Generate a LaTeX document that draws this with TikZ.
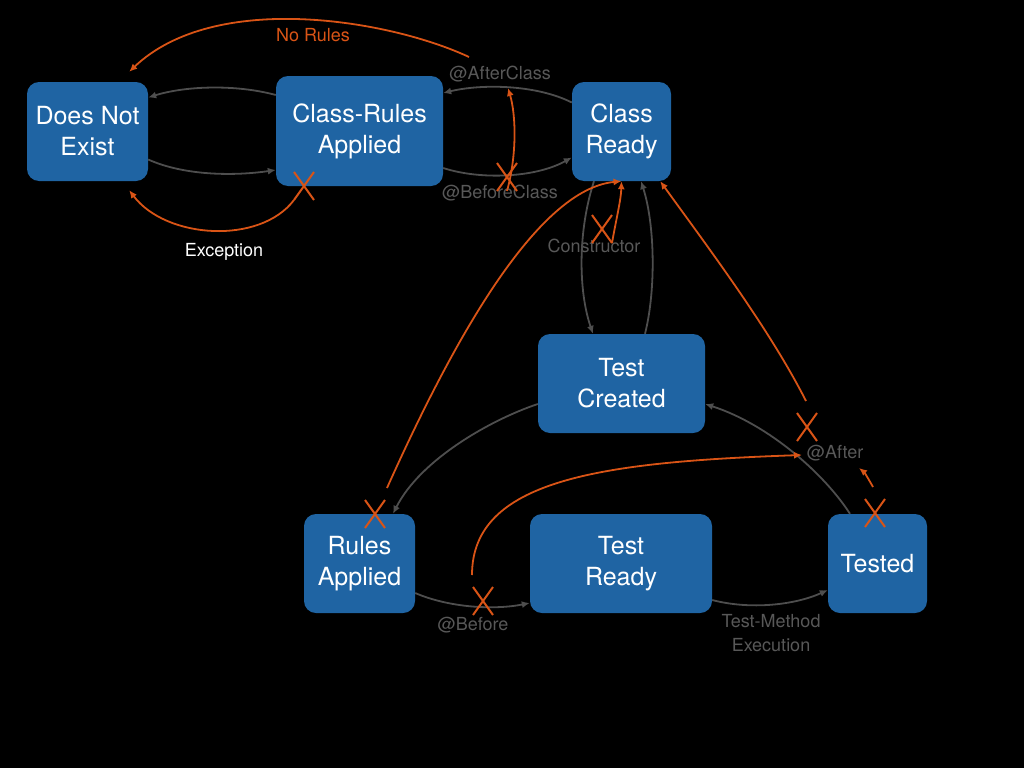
\documentclass[tikz,border=0pt]{standalone}
\usepackage{fontspec}
\setmainfont{TeX Gyre Heros}
\usetikzlibrary{arrows.meta,shapes.misc}
\definecolor{stateblue}{RGB}{31,100,163}
\definecolor{edgegray}{RGB}{78,78,78}
\definecolor{lblgray}{RGB}{88,88,88}
\definecolor{rulered}{RGB}{217,84,22}

\begin{document}
\begin{tikzpicture}[x=1pt,y=-1pt,
	state/.style={fill=stateblue, rounded corners=12pt, text=white, align=center, inner sep=0pt, font=\fontsize{25}{31}\selectfont},
	trans/.style={draw=edgegray, line width=1.8pt, -{Latex[length=8pt,width=7pt]}},
	ruled/.style={draw=rulered, line width=1.8pt, -{Latex[length=8pt,width=7pt]}},
	lbl/.style={text=lblgray, align=center, inner sep=0pt, font=\fontsize{18}{24}\selectfont},
	nope/.style={cross out, draw=rulered, line width=2pt, minimum width=18pt, minimum height=26pt, inner sep=0pt}]
\useasboundingbox (0,0) rectangle (1024,768);
\fill[black] (0,0) rectangle (1024,768);

% states
\node[state, minimum width=121pt, minimum height=99pt] (dne) at (87.5,131.5) {Does Not\\Exist};
\node[state, minimum width=167pt, minimum height=110pt] (cra) at (359.5,131) {Class-Rules\\Applied};
\node[state, minimum width=99pt, minimum height=99pt] (cr) at (621.5,131.5) {Class\\Ready};
\node[state, minimum width=167pt, minimum height=99pt] (tc) at (621.5,383.5) {Test\\Created};
\node[state, minimum width=111pt, minimum height=99pt] (ra) at (359.5,563.5) {Rules\\Applied};
\node[state, minimum width=182pt, minimum height=99pt] (tr) at (621,563.5) {Test\\Ready};
\node[state, minimum width=99pt, minimum height=99pt] (td) at (877.5,563.5) {Tested};

\node[lbl] (lac) at (500,74) {@AfterClass};
\node[lbl] (lbc) at (500,193) {@BeforeClass};
\node[lbl, text=rulered] (lnr) at (313,35) {No Rules};
\node[lbl, text=white] (lex) at (224,252) {Exception};
\node[lbl] (lco) at (594,246) {Constructor};
\node[lbl] (lbe) at (473,625) {@Before};
\node[lbl] (laf) at (835,453) {@After};
\node[lbl] (ltm) at (771,633) {Test-Method\\Execution};

% normal lifecycle
\draw[trans] ([yshift=36pt]cra.west) .. controls (235,84) and (185,86) .. ([yshift=34pt]dne.east);
\draw[trans] ([yshift=-28pt]dne.east) .. controls (185,176) and (235,176) .. ([yshift=-39pt]cra.west);
\draw[trans] ([yshift=29pt]cr.west) .. controls (535,84) and (480,84) .. ([yshift=38pt]cra.east);
\draw[trans] ([yshift=-37pt]cra.east) .. controls (480,180) and (535,178) .. ([yshift=-26pt]cr.west);
\draw[trans] ([xshift=-27.5pt]cr.south) .. controls (578,230) and (578,290) .. ([xshift=-28.5pt]tc.north);
\draw[trans] ([xshift=23.5pt]tc.north) .. controls (656,290) and (655,225) .. ([xshift=19.5pt]cr.south);
\draw[trans] ([yshift=-20.5pt]tc.west) .. controls (490,420) and (420,460) .. ([xshift=33.5pt]ra.north);
\draw[trans] ([yshift=-29.5pt]ra.east) .. controls (450,608) and (495,610) .. ([yshift=-39.5pt]tr.west);
\draw[trans] ([yshift=-36.5pt]tr.east) .. controls (750,610) and (795,605) .. ([yshift=-26.5pt]td.west);
\draw[trans] ([xshift=-27.5pt]td.north) .. controls (825,475) and (770,425) .. ([yshift=-20.5pt]tc.east);

% failures
\node[nope] (x1) at (304,186) {};
\node[nope] (x2) at (507,177) {};
\node[nope] (x3) at (602,229) {};
\node[nope] (x4) at (375,514) {};
\node[nope] (x5) at (483,601) {};
\node[nope] (x6) at (807,427) {};
\node[nope] (x7) at (875,513) {};

\coordinate (nrs) at (469,57);
\coordinate (acx) at (508,88);
\coordinate (rst) at (387,488);
\coordinate (aft) at (806,401);
\coordinate (bfs) at (472,575);
\coordinate (afe) at (802,455);
\coordinate (tds) at (873,487);
\coordinate (tde) at (859,468);

\draw[ruled] (nrs) .. controls (390,20) and (215,-10) .. ([xshift=-19pt,yshift=10pt]dne.north east);
\draw[ruled] (x1.south west) .. controls (260,245) and (166,239) .. ([xshift=-19pt,yshift=-9pt]dne.south east);
\draw[ruled] (x2.south) .. controls (517,155) and (516,115) .. (acx);
\draw[ruled] (x3.south east) .. controls (616,220) and (621,200) .. (cr.south);
\draw[ruled] (rst) .. controls (440,370) and (530,190) .. (cr.south);
\draw[ruled] (aft) .. controls (770,330) and (710,250) .. ([xshift=-11pt]cr.south east);
\draw[ruled] (bfs) .. controls (472,480) and (600,462) .. (afe);
\draw[ruled] (tds) .. controls (868,478) and (864,472) .. (tde);
\end{tikzpicture}
\end{document}
